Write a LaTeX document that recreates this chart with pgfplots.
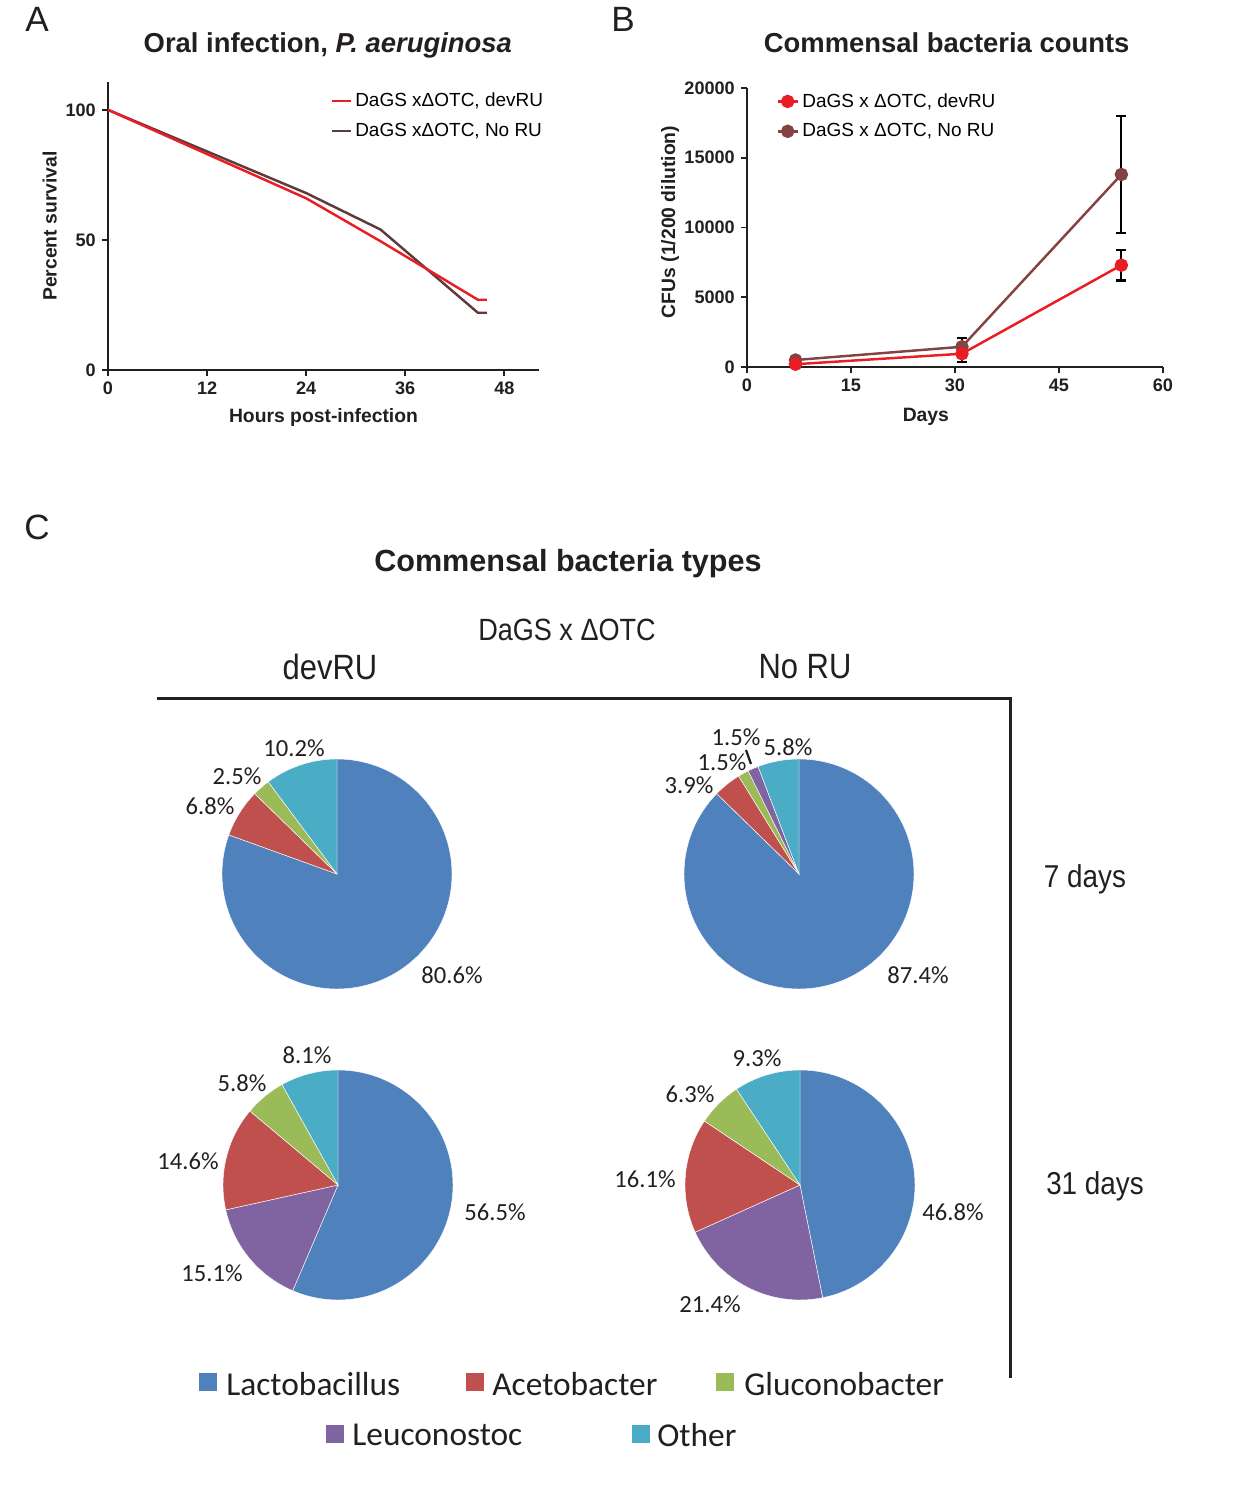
\documentclass[border=0pt]{standalone}
\usepackage{pgfplots}
\pgfplotsset{compat=1.18}
\usepackage{fontspec}
\setmainfont{Liberation Sans}
\newfontfamily\narrowfont[FakeStretch=0.88]{Liberation Sans}
\newfontfamily\calfont{Carlito}
\newcommand\fs[1]{\fontsize{#1pt}{#1pt}\selectfont}

\definecolor{cRed}{RGB}{232,30,36}
\definecolor{cBrownA}{RGB}{94,58,58}
\definecolor{cBrownB}{RGB}{133,66,66}
\definecolor{axc}{RGB}{35,31,32}
\definecolor{pBlue}{RGB}{79,129,189}
\definecolor{pRed}{RGB}{192,80,77}
\definecolor{pGreen}{RGB}{155,187,89}
\definecolor{pPurple}{RGB}{128,100,162}
\definecolor{pCyan}{RGB}{75,172,198}

% pie slices from a list value/colour, clockwise from 12 o'clock
\newcommand\drawpie[1]{%
  \gdef\pietotal{0}%
  \foreach \v/\c in {#1}{\pgfmathsetmacro\tmp{\pietotal+\v}\global\let\pietotal\tmp}%
  \gdef\piecum{0}%
  \foreach \v/\c in {#1}{%
    \pgfmathsetmacro\sa{90-(\piecum/\pietotal)*360}%
    \pgfmathsetmacro\ea{90-((\piecum+\v)/\pietotal)*360}%
    \fill[\c, draw=white, line width=0.25pt] (axis cs:0,0) -- (axis cs:{cos(\sa)},{sin(\sa)}) arc[start angle=\sa, end angle=\ea, radius=23mm] -- cycle;%
    \pgfmathsetmacro\tmp{\piecum+\v}\global\let\piecum\tmp
  }%
}

\pgfplotsset{
  panel/.style={
    scale only axis, axis lines=left, axis line style={-, line width=1pt, color=axc},
    tick align=outside, major tick length=1.2mm,
    tick style={line width=1pt, color=axc},
    tick label style={font=\bfseries\fs{10.3}, color=axc},
    /pgf/number format/assume math mode=true,
    label style={font=\bfseries\fs{11}, color=axc},
    title style={font=\bfseries\fs{15.6}, color=axc},
    clip=false,
  },
  pieax/.style={
    anchor=center, scale only axis, width=46mm, height=46mm,
    xmin=-1, xmax=1, ymin=-1, ymax=1, hide axis, clip=false,
  },
}

\begin{document}
\begin{tikzpicture}
\useasboundingbox (0,0) rectangle (249mm,-300mm);

% ---------------- Panel A ----------------
\begin{axis}[panel,
  at={({108*0.2mm},{-370*0.2mm})}, anchor=south west,
  width=86.2mm, height=57.6mm,
  xmin=0, xmax=52.2, ymin=0, ymax=110.7,
  xtick={0,12,24,36,48}, ytick={0,50,100},
  xlabel={Hours post-infection}, ylabel={Percent survival},
  xlabel style={at={(axis description cs:0.5,-0.165)}, anchor=center},
  ylabel style={at={(axis description cs:-0.135,0.5)}, anchor=center},
  title={Oral infection, \textit{P. aeruginosa}},
  title style={at={(axis description cs:0.51,1.09)}, anchor=center},
  legend style={draw=none, fill=none, inner sep=0pt, row sep=3.6pt, at={(axis description cs:0.515,0.975)}, anchor=north west, font=\fs{10.8}},
  legend cell align=left, reverse legend,
  legend image code/.code={\draw[#1] (0mm,0mm) -- (3.8mm,0mm);},
]
\addplot[cBrownA, line width=1.4pt] coordinates {(0,100) (24,68) (33,54) (44.8,22) (45.9,22)};
\addlegendentry{DaGS xΔOTC, No RU}
\addplot[cRed, line width=1.4pt] coordinates {(0,100) (24,66) (33,49.5) (44.8,27) (45.9,27)};
\addlegendentry{DaGS xΔOTC, devRU}
\end{axis}

% ---------------- Panel B ----------------
\begin{axis}[panel,
  at={({747*0.2mm},{-367*0.2mm})}, anchor=south west,
  width=83.2mm, height=55.8mm,
  xmin=0, xmax=60, ymin=0, ymax=20000,
  xtick={0,15,30,45,60}, ytick={0,5000,10000,15000,20000},
  scaled y ticks=false, /pgf/number format/1000 sep={},
  xlabel={Days}, ylabel={CFUs (1/200 dilution)},
  xlabel style={at={(axis description cs:0.43,-0.18)}, anchor=center},
  ylabel style={at={(axis description cs:-0.185,0.52)}, anchor=center},
  title={Commensal bacteria counts},
  title style={at={(axis description cs:0.48,1.125)}, anchor=center},
  legend style={draw=none, fill=none, inner sep=0pt, row sep=3.8pt, at={(axis description cs:0.07,0.995)}, anchor=north west, font=\fs{10.8}},
  legend cell align=left, reverse legend,
  legend image code/.code={\draw[mark repeat=2,mark phase=2,#1] plot coordinates {(0mm,0mm) (2mm,0mm) (4mm,0mm)};},
]
\addplot[cBrownB, line width=1.4pt, mark=*, mark size=1.1mm, mark options={solid},
  error bars/.cd, y dir=both, y explicit,
  error bar style={black, line width=1.2pt},
  error mark options={black, rotate=90, mark size=1mm, line width=1.2pt}]
  table[x=x, y=y, y error=e] {
  x  y     e
  7  500   150
  31 1450  650
  54 13800 4200
  };
\addlegendentry{DaGS x ΔOTC, No RU}
\addplot[cRed, line width=1.4pt, mark=*, mark size=1.1mm, mark options={solid},
  error bars/.cd, y dir=both, y explicit,
  error bar style={black, line width=1.2pt},
  error mark options={black, rotate=90, mark size=1mm, line width=1.2pt}]
  table[x=x, y=y, y error=e] {
  x  y     e
  7  200   100
  31 950   600
  54 7300  1100
  };
\addlegendentry{DaGS x ΔOTC, devRU}
\end{axis}

% ---------------- Panel C pies ----------------
\begin{axis}[pieax, at={({337*0.2mm},{-874*0.2mm})}]
\pgfplotsextra{\drawpie{80.6/pBlue,6.8/pRed,2.5/pGreen,10.2/pCyan}}
\end{axis}
\begin{axis}[pieax, at={({799*0.2mm},{-874*0.2mm})}]
\pgfplotsextra{\drawpie{87.4/pBlue,3.9/pRed,1.5/pGreen,1.5/pPurple,5.8/pCyan}}
\end{axis}
\begin{axis}[pieax, at={({338*0.2mm},{-1185*0.2mm})}]
\pgfplotsextra{\drawpie{56.5/pBlue,15.1/pPurple,14.6/pRed,5.8/pGreen,8.1/pCyan}}
\end{axis}
\begin{axis}[pieax, at={({800*0.2mm},{-1185*0.2mm})}]
\pgfplotsextra{\drawpie{46.8/pBlue,21.4/pPurple,16.1/pRed,6.3/pGreen,9.3/pCyan}}
\end{axis}

% ---------------- texts in pixel coordinates ----------------
\begin{scope}[x=0.2mm, y=-0.2mm]
\node[font=\fs{20}, color=axc] at (37,19) {A};
\node[font=\fs{20}, color=axc] at (623,19) {B};
\node[font=\fs{20}, color=axc] at (37,527) {C};
\node[font=\bfseries\fs{17.4}, color=axc] at (568,564) {Commensal bacteria types};
\node[font=\narrowfont\fs{17.5}, color=axc] at (567,630) {DaGS x ΔOTC};
\node[font=\narrowfont\fs{20}, color=axc] at (330,667) {devRU};
\node[font=\narrowfont\fs{20}, color=axc] at (805,667) {No RU};
\draw[line width=0.6mm, axc] (157,699) -- (1010,699) -- (1010,1378);
\node[font=\narrowfont\fs{18}, color=axc] at (1085,879) {7 days};
\node[font=\narrowfont\fs{18}, color=axc] at (1095,1186) {31 days};

\begin{scope}[every node/.style={font=\calfont\fs{14}, color=axc}]
\node at (294,748) {10.2\%};
\node at (237,776) {2.5\%};
\node at (210,806) {6.8\%};
\node at (452,975) {80.6\%};
\node at (736,737) {1.5\%};
\node at (788,747) {5.8\%};
\node at (722,762) {1.5\%};
\node at (689,785) {3.9\%};
\node at (918,975) {87.4\%};
\node at (307,1055) {8.1\%};
\node at (242,1083) {5.8\%};
\node at (188,1161) {14.6\%};
\node at (212,1273) {15.1\%};
\node at (495,1212) {56.5\%};
\node at (757,1058) {9.3\%};
\node at (690,1094) {6.3\%};
\node at (645,1179) {16.1\%};
\node at (710,1304) {21.4\%};
\node at (953,1212) {46.8\%};
\end{scope}
\draw[axc, line width=0.45mm] (746,750) -- (751,764);

\begin{scope}[every node/.style={font=\calfont\fs{19}, color=axc, anchor=west, inner sep=0pt}]
\fill[pBlue] (199,1373) rectangle (217,1391);   \node at (226,1384) {Lactobacillus};
\fill[pRed] (466,1373) rectangle (484,1391);    \node at (492,1384) {Acetobacter};
\fill[pGreen] (716,1373) rectangle (734,1391);  \node at (744,1384) {Gluconobacter};
\fill[pPurple] (326,1425) rectangle (344,1443); \node at (352,1435) {Leuconostoc};
\fill[pCyan] (632,1425) rectangle (650,1443);   \node at (657,1435) {Other};
\end{scope}
\end{scope}
\end{tikzpicture}
\end{document}
